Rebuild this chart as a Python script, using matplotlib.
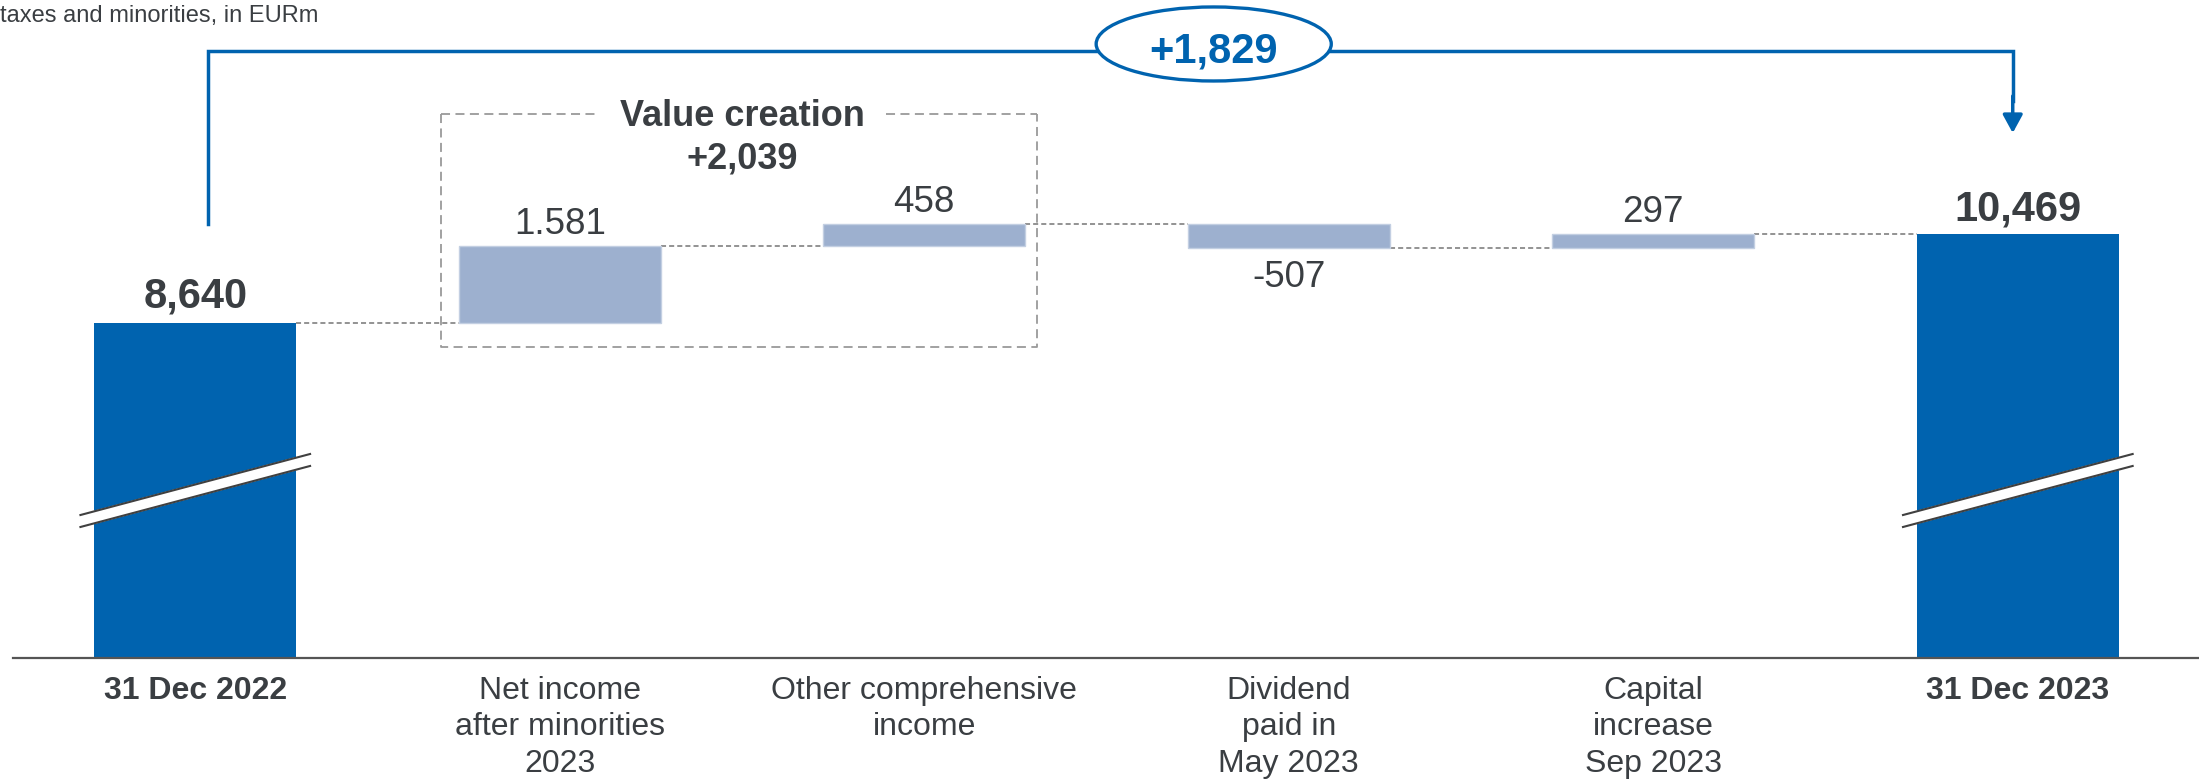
import numpy as np
import matplotlib.pyplot as plt
from matplotlib.patches import Ellipse

plt.rcParams['font.family'] = ['Liberation Sans', 'DejaVu Sans']

# data
categories = ['31 Dec 2022', 'Net income\nafter minorities\n2023', 'Other comprehensive\nincome',
              'Dividend\npaid in\nMay 2023', 'Capital\nincrease\nSep 2023', '31 Dec 2023']
start_value = 8640
changes = [1581, 458, -507, 297]
end_value = 10469
value_labels = ['8,640', '1.581', '458', '-507', '297', '10,469']
total_change = '+1,829'
value_creation = '+2,039'

dark_blue = '#0063AF'
light_blue = '#9DB0CF'
txt = '#3A3E42'

fig = plt.figure(figsize=(21.99, 7.83), dpi=100)
ax = fig.add_axes([13/2199, 125/783, 2186/2199, 658/783])
y_floor = 1761
ax.set_xlim(-0.5, 5.497)
ax.set_ylim(y_floor, 15272)

x = np.arange(len(categories))
w = 0.554

# step bars
bottoms, heights, levels = [], [], [start_value]
run = start_value
for c in changes:
    bottoms.append(run if c > 0 else run + c)
    heights.append(abs(c))
    run += c
    levels.append(run)

ax.bar(x[[0, 5]], [start_value - y_floor, end_value - y_floor], bottom=y_floor,
       width=w, color=dark_blue, zorder=2)
ax.bar(x[1:5], heights, bottom=bottoms, width=w, color=light_blue,
       edgecolor='#C3CFE2', linewidth=1, zorder=2)

# connectors
for i in range(5):
    ax.plot([x[i] + w/2, x[i+1] - w/2], [levels[i], levels[i]], color='#8A8A8A',
            lw=1.3, dashes=(2.8, 1.7), zorder=1)

# value labels
ax.annotate(value_labels[0], (x[0], start_value), xytext=(0, 15), textcoords='offset pixels',
            ha='center', va='baseline', fontsize=30, fontweight='bold', color=txt)
ax.annotate(value_labels[5], (x[5], end_value), xytext=(0, 13), textcoords='offset pixels',
            ha='center', va='baseline', fontsize=30, fontweight='bold', color=txt)
for i, c in enumerate(changes):
    if c > 0:
        ax.annotate(value_labels[i+1], (x[i+1], bottoms[i] + heights[i]), xytext=(0, 12),
                    textcoords='offset pixels', ha='center', va='baseline', fontsize=26.5, color=txt)
    else:
        ax.annotate(value_labels[i+1], (x[i+1], bottoms[i]), xytext=(0, -39),
                    textcoords='offset pixels', ha='center', va='baseline', fontsize=26.5, color=txt)

# axis break marks
for xc in [x[0], x[5]]:
    bx = [xc - 0.315, xc + 0.315]
    up = [4697, 5950]
    lo = [4451, 5704]
    ax.fill([bx[0], bx[1], bx[1], bx[0]], [up[0], up[1], lo[1], lo[0]], color='white',
            zorder=3, clip_on=False)
    ax.plot(bx, up, color='#404040', lw=1.5, zorder=4, clip_on=False)
    ax.plot(bx, lo, color='#404040', lw=1.5, zorder=4, clip_on=False)

# value creation box
box_l, box_r, box_b, box_t = 0.6735, 2.3087, 8150, 12930
gap_l, gap_r = 1.105, 1.895
box_kw = dict(color='#9A9A9A', lw=1.3, dashes=(5, 3), zorder=1)
ax.plot([box_l, box_l, box_r, box_r], [box_t, box_b, box_b, box_t], **box_kw)
ax.plot([box_l, gap_l], [box_t, box_t], **box_kw)
ax.plot([gap_r, box_r], [box_t, box_t], **box_kw)
ax.text(1.5, 12675, 'Value creation', ha='center', va='baseline', fontsize=26,
        fontweight='bold', color=txt)
ax.text(1.5, 11815, value_creation, ha='center', va='baseline', fontsize=26,
        fontweight='bold', color=txt)

# total change bracket
line_y = 14225
ax.plot([x[0] + 0.034, x[0] + 0.034, x[5] - 0.014, x[5] - 0.014],
        [10673, line_y, line_y, 13200], color=dark_blue, lw=2.5, zorder=3,
        solid_joinstyle='miter', clip_on=False)
ax.annotate('', xy=(x[5] - 0.014, 12541), xytext=(x[5] - 0.014, 13300),
            arrowprops=dict(arrowstyle='-|>,head_length=0.55,head_width=0.3',
                            color=dark_blue, lw=2.5, mutation_scale=20,
                            shrinkA=0, shrinkB=0), zorder=3)
ax.add_patch(Ellipse((2.794, 14369), 0.645, 1520, facecolor='white', edgecolor=dark_blue,
                     lw=2.4, zorder=4, clip_on=False))
ax.text(2.794, 13979, total_change, ha='center', va='baseline', fontsize=30,
        fontweight='bold', color=dark_blue, zorder=5)

# axes styling
for s in ['left', 'right', 'top']:
    ax.spines[s].set_visible(False)
ax.spines['bottom'].set_color('#555555')
ax.spines['bottom'].set_linewidth(1.6)
ax.set_yticks([])
ax.set_xticks(x, categories)
ax.tick_params(axis='x', length=0, pad=13, labelsize=23, labelcolor=txt)
for lab in ax.get_xticklabels():
    lab.set_linespacing(1.28)
for lab in [ax.get_xticklabels()[0], ax.get_xticklabels()[-1]]:
    lab.set_fontweight('bold')

fig.text(0.0, 1 - 22/783, 'taxes and minorities, in EURm', ha='left', va='baseline',
         fontsize=17, color=txt)

fig.savefig('out.png', dpi=100)
